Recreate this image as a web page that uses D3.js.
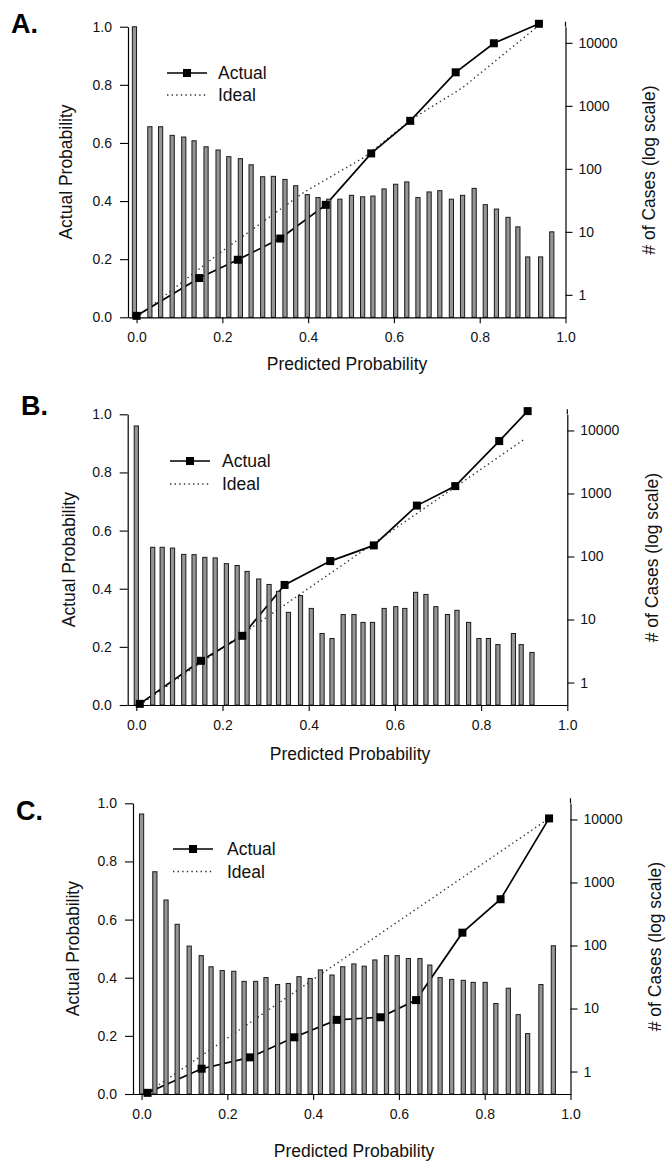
<!DOCTYPE html>
<html><head><meta charset="utf-8">
<script src="https://cdn.jsdelivr.net/npm/d3@7"></script>
<style>
body{margin:0;background:#fff;}
svg{display:block;font-family:"Liberation Sans",Arial,Helvetica,sans-serif;}
</style></head><body>
<svg id="chart" width="666" height="1163"></svg>
<script>
// ---------- data ----------
const panelLabels = ["A.", "B.", "C."];
const xTicks = [0, 0.2, 0.4, 0.6, 0.8, 1.0];
const probTicks = [0, 0.2, 0.4, 0.6, 0.8, 1.0];
const caseTicks = [1, 10, 100, 1000, 10000];
const legendLabels = ["Actual", "Ideal"];

// histogram bins: predicted probability position and # of cases
const barsA_x = [-0.005, 0.031, 0.056, 0.083, 0.110, 0.134, 0.162, 0.190, 0.215, 0.242, 0.267, 0.294, 0.319, 0.346, 0.371, 0.398, 0.423, 0.448, 0.474, 0.501, 0.527, 0.551, 0.577, 0.604, 0.630, 0.656, 0.682, 0.707, 0.734, 0.760, 0.787, 0.813, 0.839, 0.866, 0.889, 0.912, 0.942, 0.968];
const barsA_n = [18000, 466, 466, 340, 320, 279, 224, 199, 156, 145, 116, 75, 76, 68, 54, 39, 35, 33, 33, 38, 36, 37, 48, 57, 62, 35, 43, 45, 33, 38, 49, 27, 23, 17, 12, 4, 4, 10];
const barsB_x = [0.000, 0.038, 0.060, 0.084, 0.110, 0.134, 0.159, 0.183, 0.209, 0.234, 0.257, 0.284, 0.308, 0.330, 0.353, 0.381, 0.406, 0.431, 0.454, 0.480, 0.505, 0.526, 0.548, 0.575, 0.602, 0.623, 0.648, 0.672, 0.695, 0.722, 0.744, 0.771, 0.795, 0.817, 0.839, 0.875, 0.893, 0.918];
const barsB_n = [11800, 140, 140, 136, 108, 107, 97, 95, 77, 72, 58, 44, 36, 28, 13, 24, 15, 6, 5, 12, 12, 9, 9, 15, 16, 15, 27, 25, 16, 12, 14, 9, 5, 5, 4, 6, 4, 3];
const barsC_x = [0.000, 0.031, 0.057, 0.083, 0.111, 0.139, 0.162, 0.188, 0.215, 0.239, 0.266, 0.290, 0.317, 0.342, 0.367, 0.393, 0.417, 0.444, 0.469, 0.495, 0.519, 0.544, 0.571, 0.596, 0.622, 0.649, 0.672, 0.696, 0.723, 0.750, 0.773, 0.801, 0.826, 0.855, 0.878, 0.900, 0.931, 0.960];
const barsC_n = [12200, 1480, 527, 217, 98, 69, 46, 40, 39, 27, 27, 31, 24, 25, 32, 30, 41, 34, 46, 51, 47, 59, 69, 69, 62, 62, 49, 31, 29, 28, 26, 26, 12, 21, 8, 4, 24, 99];

// calibration curves
const actualA_x = [0.000, 0.146, 0.236, 0.335, 0.441, 0.547, 0.638, 0.744, 0.833, 0.938];
const actualA_y = [0.005, 0.135, 0.198, 0.271, 0.387, 0.564, 0.676, 0.843, 0.943, 1.010];
const idealA_x = [0.000, 0.200, 0.390, 0.530, 0.645, 0.760, 0.930];
const idealA_y = [0.000, 0.228, 0.430, 0.550, 0.685, 0.790, 0.995];
const actualB_x = [0.008, 0.150, 0.246, 0.344, 0.450, 0.551, 0.651, 0.740, 0.842, 0.908];
const actualB_y = [0.004, 0.152, 0.238, 0.413, 0.495, 0.549, 0.686, 0.753, 0.908, 1.011];
const idealB_x = [0.008, 0.900];
const idealB_y = [0.000, 0.914];
const actualC_x = [0.014, 0.140, 0.253, 0.356, 0.455, 0.557, 0.640, 0.748, 0.837, 0.950];
const actualC_y = [0.004, 0.087, 0.126, 0.195, 0.255, 0.264, 0.323, 0.555, 0.670, 0.948];
const idealC_x = [0.014, 0.950];
const idealC_y = [0.005, 0.948];

// ---------- layout ----------
const layouts = [
  {left:128, right:565.5, top:26.7, bottom:317.3, lab:[11,33], legX:[167,207,218], legY:[73,95], yTitleX:66, rTitleX:649, xTitle:[347,370]},
  {left:127.7, right:567.3, top:414.3, bottom:705, lab:[21,415], legX:[170,210,222], legY:[461,484], yTitleX:69, rTitleX:652, xTitle:[350,760]},
  {left:133, right:570.5, top:803.3, bottom:1094, lab:[16,820], legX:[173,213,227], legY:[849,871.5], yTitleX:73, rTitleX:655, xTitle:[354,1157]}
];
const panels = [
  {bx:barsA_x, bn:barsA_n, ax:actualA_x, ay:actualA_y, ix:idealA_x, iy:idealA_y},
  {bx:barsB_x, bn:barsB_n, ax:actualB_x, ay:actualB_y, ix:idealB_x, iy:idealB_y},
  {bx:barsC_x, bn:barsC_n, ax:actualC_x, ay:actualC_y, ix:idealC_x, iy:idealC_y}
];

const svg = d3.select("#chart");
const TXT = "#111";

panels.forEach((p, i) => {
  const L = layouts[i];
  const g = svg.append("g");
  const x = d3.scaleLinear().domain([-0.02, 1.0]).range([L.left, L.right]);
  const y = d3.scaleLinear().domain([0, 1]).range([L.bottom, L.top]);
  const yn = d3.scaleLog().domain([0.44, 18050]).range([L.bottom, L.top]);

  const line = d3.line().x(d => x(d[0])).y(d => y(d[1]));
  const idealPts = p.ix.map((v, k) => [v, p.iy[k]]);
  const actPts = p.ax.map((v, k) => [v, p.ay[k]]);

  // ideal (dotted) and actual lines, behind the bars
  g.append("path").attr("d", line(idealPts)).attr("fill", "none")
    .attr("stroke", "#333").attr("stroke-width", 1.4).attr("stroke-dasharray", "1.4,3.2");
  g.append("path").attr("d", line(actPts)).attr("fill", "none")
    .attr("stroke", "#000").attr("stroke-width", 1.7);

  // bars (# of cases, log scale)
  g.selectAll("rect.bar").data(p.bx.map((v, k) => [v, p.bn[k]])).join("rect")
    .attr("class", "bar")
    .attr("x", d => x(d[0]) - 2.1)
    .attr("width", 4.2)
    .attr("y", d => yn(d[1]))
    .attr("height", d => L.bottom - yn(d[1]))
    .attr("fill", "#959595").attr("stroke", "#1a1a1a").attr("stroke-width", 1);

  // markers
  g.selectAll("rect.mk").data(actPts).join("rect")
    .attr("class", "mk")
    .attr("x", d => x(d[0]) - 4).attr("y", d => y(d[1]) - 4)
    .attr("width", 8).attr("height", 8).attr("fill", "#000");

  // axes
  const fmt = d3.format(".1f");
  const ax = g.append("g").attr("transform", `translate(${L.left},0)`)
    .call(d3.axisLeft(y).tickValues(probTicks).tickFormat(fmt).tickSize(8).tickPadding(8).tickSizeOuter(0));
  const bx = g.append("g").attr("transform", `translate(0,${L.bottom})`)
    .call(d3.axisBottom(x).tickValues(xTicks).tickFormat(fmt).tickSize(6).tickPadding(9).tickSizeOuter(0));
  const rx = g.append("g").attr("transform", `translate(${L.right},0)`)
    .call(d3.axisRight(yn).tickValues(caseTicks).tickFormat(d3.format("d")).tickSize(7).tickPadding(6).tickSizeOuter(0));
  g.append("line").attr("x1", L.right).attr("x2", L.right).attr("y1", L.top - 5).attr("y2", L.top)
    .attr("stroke", "#000").attr("stroke-width", 1.2);
  [ax, bx, rx].forEach(a => {
    a.selectAll("path.domain").attr("stroke", "#000").attr("stroke-width", 1.2);
    a.selectAll(".tick line").attr("stroke", "#000").attr("stroke-width", 1.1);
    a.selectAll(".tick text").attr("font-size", 14).attr("fill", TXT)
      .attr("font-family", "'Liberation Sans',Arial,sans-serif");
  });

  // titles
  g.append("text").attr("transform", `translate(${L.yTitleX},${(L.top + L.bottom) / 2}) rotate(-90)`)
    .attr("text-anchor", "middle").attr("dy", "0.35em").attr("font-size", 17.5).attr("fill", TXT)
    .text("Actual Probability");
  g.append("text").attr("transform", `translate(${L.rTitleX},${(L.top + L.bottom) / 2 - 2}) rotate(-90)`)
    .attr("text-anchor", "middle").attr("dy", "0.35em").attr("font-size", 17.5).attr("fill", TXT)
    .text("# of Cases (log scale)");
  g.append("text").attr("x", L.xTitle[0]).attr("y", L.xTitle[1])
    .attr("text-anchor", "middle").attr("font-size", 17.5).attr("fill", TXT)
    .text("Predicted Probability");
  g.append("text").attr("x", L.lab[0]).attr("y", L.lab[1])
    .attr("font-size", 27).attr("font-weight", "bold").attr("fill", "#000")
    .text(panelLabels[i]);

  // legend
  const [lx1, lx2, tx] = L.legX;
  g.append("line").attr("x1", lx1).attr("x2", lx2).attr("y1", L.legY[0]).attr("y2", L.legY[0])
    .attr("stroke", "#000").attr("stroke-width", 1.7);
  g.append("rect").attr("x", (lx1 + lx2) / 2 - 4).attr("y", L.legY[0] - 4).attr("width", 8).attr("height", 8).attr("fill", "#000");
  g.append("line").attr("x1", lx1).attr("x2", lx2).attr("y1", L.legY[1]).attr("y2", L.legY[1])
    .attr("stroke", "#333").attr("stroke-width", 1.4).attr("stroke-dasharray", "1.4,3.2");
  legendLabels.forEach((t, k) => {
    g.append("text").attr("x", tx).attr("y", L.legY[k]).attr("dy", "0.36em")
      .attr("font-size", 17.5).attr("fill", TXT).text(t);
  });
});
</script>
</body></html>
